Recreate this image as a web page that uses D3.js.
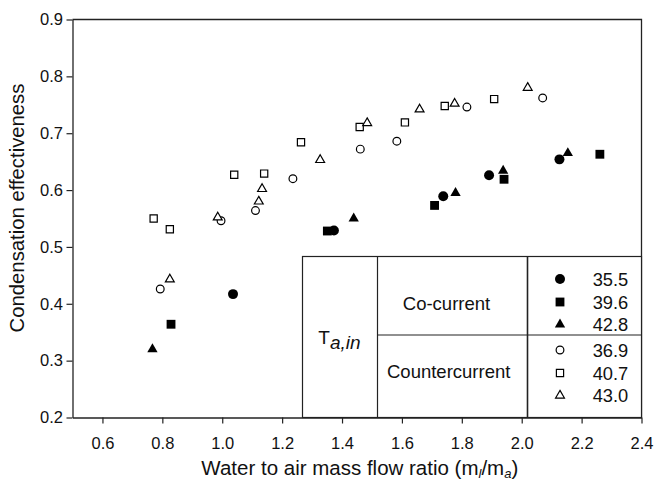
<!DOCTYPE html>
<html>
<head>
<meta charset="utf-8">
<script src="https://cdn.jsdelivr.net/npm/d3@7"></script>
<style>
    body { margin: 0; background: #fff; }
    text { font-family: "Liberation Sans", Arial, Helvetica, sans-serif; fill: #111; }
</style>
</head>
<body>
<script>
const WIDTH = 656;
const HEIGHT = 484;
const MARGINS = { top: 19.5, right: 14.5, bottom: 66.5, left: 72.5 };

// Tick values
const xTicks = [0.6, 0.8, 1.0, 1.2, 1.4, 1.6, 1.8, 2.0, 2.2, 2.4];
const yTicks = [0.2, 0.3, 0.4, 0.5, 0.6, 0.7, 0.8, 0.9];

// Co-current runs, [mass flow ratio, effectiveness]
const co355 = [[1.036, 0.417], [1.373, 0.529], [1.738, 0.589], [1.891, 0.626], [2.126, 0.654]];
const co396 = [[0.829, 0.364], [1.351, 0.528], [1.709, 0.573], [1.941, 0.619], [2.261, 0.663]];
const co428 = [[0.767, 0.320], [1.439, 0.550], [1.779, 0.595], [1.938, 0.634], [2.154, 0.665]];

// Countercurrent runs
const cc369 = [[0.793, 0.426], [0.996, 0.546], [1.111, 0.564], [1.236, 0.620], [1.461, 0.672],
               [1.583, 0.686], [1.817, 0.746], [2.070, 0.762]];
const cc407 = [[0.771, 0.550], [0.825, 0.531], [1.040, 0.627], [1.140, 0.629], [1.263, 0.684],
               [1.459, 0.711], [1.610, 0.719], [1.743, 0.748], [1.908, 0.760]];
const cc430 = [[0.825, 0.443], [0.985, 0.552], [1.122, 0.580], [1.133, 0.602], [1.327, 0.653],
               [1.484, 0.718], [1.659, 0.742], [1.776, 0.752], [2.020, 0.780]];

const series = [
    { label: "35.5", shape: "circle", filled: true, data: co355 },
    { label: "39.6", shape: "square", filled: true, data: co396 },
    { label: "42.8", shape: "triangle", filled: true, data: co428 },
    { label: "36.9", shape: "circle", filled: false, data: cc369 },
    { label: "40.7", shape: "square", filled: false, data: cc407 },
    { label: "43.0", shape: "triangle", filled: false, data: cc430 }
];

const SHAPES = { circle: d3.symbolCircle, square: d3.symbolSquare, triangle: d3.symbolTriangle };
// symbol areas, filled / open
const SIZES = {
    circle: [78, 47],
    square: [78, 52],
    triangle: [46, 34]
};

const xScale = d3.scaleLinear()
    .domain([0.5, 2.4])
    .range([MARGINS.left, WIDTH - MARGINS.right]);
const yScale = d3.scaleLinear()
    .domain([0.2, 0.9])
    .range([HEIGHT - MARGINS.bottom, MARGINS.top]);

const svg = d3.select("body").append("svg")
    .attr("width", WIDTH)
    .attr("height", HEIGHT)
    .attr("viewBox", [0, 0, WIDTH, HEIGHT]);

// Frame (top and right)
svg.append("path")
    .attr("d", `M${MARGINS.left},${MARGINS.top}H${WIDTH - MARGINS.right}V${HEIGHT - MARGINS.bottom}`)
    .style("fill", "none")
    .style("stroke", "#222")
    .style("stroke-width", 1.3);

// Legend table
const lg = svg.append("g").attr("class", "legend");
const L = { x0: 302.5, x1: 377.5, x2: 527.5, x3: WIDTH - MARGINS.right, y0: 256.5, ymid: 335, y1: HEIGHT - MARGINS.bottom };
lg.append("rect")
    .attr("x", L.x0).attr("y", L.y0)
    .attr("width", L.x3 - L.x0).attr("height", L.y1 - L.y0)
    .style("fill", "#fff").style("stroke", "#222").style("stroke-width", 1.2);
lg.append("line").attr("x1", L.x1).attr("x2", L.x1).attr("y1", L.y0).attr("y2", L.y1)
    .style("stroke", "#222").style("stroke-width", 1.2);
lg.append("line").attr("x1", L.x2).attr("x2", L.x2).attr("y1", L.y0).attr("y2", L.y1)
    .style("stroke", "#222").style("stroke-width", 1.6);
lg.append("line").attr("x1", L.x1).attr("x2", L.x3).attr("y1", L.ymid).attr("y2", L.ymid)
    .style("stroke", "#222").style("stroke-width", 1.2);

const tLabel = lg.append("text")
    .attr("x", 318.3).attr("y", 344.3)
    .style("font-size", "19px");
tLabel.append("tspan").text("T");
tLabel.append("tspan").attr("dy", 4.4).style("font-style", "italic").text("a,in");

lg.append("text").attr("x", 446.5).attr("y", 310)
    .attr("text-anchor", "middle").style("font-size", "18.5px").text("Co-current");
lg.append("text").attr("x", 448.7).attr("y", 377.6)
    .attr("text-anchor", "middle").style("font-size", "18.5px").text("Countercurrent");

const rowY = [279, 302, 324.5, 350, 373, 395.5];
series.forEach(function(s, i) {
    lg.append("path")
        .attr("transform", `translate(560,${rowY[i]})`)
        .attr("d", d3.symbol(SHAPES[s.shape], SIZES[s.shape][s.filled ? 0 : 1])())
        .style("fill", s.filled ? "#000" : "#fff")
        .style("stroke", "#000")
        .style("stroke-width", s.filled ? 0 : 1.2);
    lg.append("text")
        .attr("x", 592.7).attr("y", rowY[i] + 6.8)
        .style("font-size", "18.3px")
        .text(s.label);
});

// x-axis
const xAxis = svg.append("g")
    .attr("transform", `translate(0,${HEIGHT - MARGINS.bottom})`)
    .call(d3.axisBottom(xScale).tickValues(xTicks).tickFormat(d3.format(".1f"))
        .tickSize(6).tickSizeOuter(0).tickPadding(13.8));
// y-axis
const yAxis = svg.append("g")
    .attr("transform", `translate(${MARGINS.left},0)`)
    .call(d3.axisLeft(yScale).tickValues(yTicks).tickFormat(d3.format(".1f"))
        .tickSize(6).tickSizeOuter(0).tickPadding(3.5));
[xAxis, yAxis].forEach(function(ax) {
    ax.attr("font-family", null).attr("font-size", null);
    ax.select(".domain").style("stroke", "#222").style("stroke-width", 1.3);
    ax.selectAll(".tick line").style("stroke", "#222").style("stroke-width", 1.2);
    ax.selectAll(".tick text").style("font-size", "16.5px").style("fill", "#111");
});

// Axis titles
const xTitle = svg.append("text")
    .attr("x", 359.8).attr("y", 475)
    .attr("text-anchor", "middle")
    .style("font-size", "20.5px");
xTitle.append("tspan").text("Water to air mass flow ratio (m");
xTitle.append("tspan").attr("dy", 3).style("font-size", "13px").style("font-style", "italic").text("l");
xTitle.append("tspan").attr("dy", -3).text("/m");
xTitle.append("tspan").attr("dy", 3).style("font-size", "13px").style("font-style", "italic").text("a");
xTitle.append("tspan").attr("dy", -3).text(")");

svg.append("text")
    .attr("transform", "rotate(-90)")
    .attr("x", -208).attr("y", 24)
    .attr("text-anchor", "middle")
    .style("font-size", "20.3px")
    .text("Condensation effectiveness");

// Data points
series.forEach(function(s) {
    svg.append("g")
        .selectAll("path")
        .data(s.data)
        .join("path")
        .attr("transform", d => `translate(${xScale(d[0])},${yScale(d[1])})`)
        .attr("d", d3.symbol(SHAPES[s.shape], SIZES[s.shape][s.filled ? 0 : 1])())
        .style("fill", s.filled ? "#000" : "#fff")
        .style("stroke", "#000")
        .style("stroke-width", s.filled ? 0 : 1.2);
});
</script>
</body>
</html>
